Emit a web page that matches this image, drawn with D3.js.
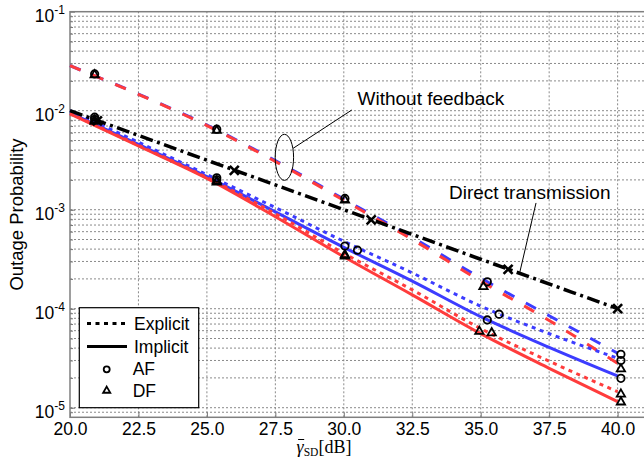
<!DOCTYPE html>
<html>
<head>
<meta charset="utf-8">
<script src="https://cdn.jsdelivr.net/npm/d3@7"></script>
<style>
  body { margin: 0; background: #fff; }
  svg { display: block; font-family: "Liberation Sans", Arial, Helvetica, sans-serif; }
</style>
</head>
<body>
<div id="chart"></div>
<script>
// values
var snr = [20, 22.5, 25, 27.5, 30, 32.5, 35, 37.5, 40];
var noFbAF = [2.85e-2, 1.47e-2, 7.16e-3, 3.13e-3, 1.28e-3, 5.25e-4, 2.04e-4, 8.5e-5, 3.55e-5];
var noFbDF = [2.85e-2, 1.46e-2, 7.08e-3, 3.07e-3, 1.245e-3, 5.0e-4, 1.9e-4, 7.6e-5, 2.8e-5];
var explAF = [1.0e-2, 4.8e-3, 2.26e-3, 1.05e-3, 4.8e-4, 2.3e-4, 1.06e-4, 5.6e-5, 3.16e-5];
var explDF = [9.4e-3, 4.47e-3, 2.11e-3, 9.1e-4, 3.63e-4, 1.55e-4, 6.3e-5, 2.95e-5, 1.45e-5];
var implAF = [9.5e-3, 4.57e-3, 2.16e-3, 9.5e-4, 4.17e-4, 1.9e-4, 8.3e-5, 4.07e-5, 2.09e-5];
var implDF = [9.3e-3, 4.4e-3, 2.07e-3, 8.5e-4, 3.35e-4, 1.38e-4, 5.6e-5, 2.5e-5, 1.15e-5];

var directSnr = [20, 25, 30, 35, 40];
var direct = [1.0e-2, 3.16e-3, 1.0e-3, 3.16e-4, 1.0e-4];
var directMarkSnr = [21, 26, 31, 36, 40];
var directMark = [7.9e-3, 2.5e-3, 7.9e-4, 2.5e-4, 1.0e-4];

// simulation points: circles = AF, triangles = DF
var simAF = [
  { x: [20.9, 25.36, 30.04, 35.24, 40.12], y: [2.35e-2, 6.5e-3, 1.3e-3, 1.87e-4, 3.46e-5] },
  { x: [20.9, 25.36, 30.5, 35.67, 40.12], y: [8.6e-3, 2.1e-3, 3.9e-4, 8.8e-5, 2.99e-5] },
  { x: [20.9, 25.36, 30.04, 35.24, 40.12], y: [8.2e-3, 2.0e-3, 4.3e-4, 7.7e-5, 1.98e-5] }
];
var simDF = [
  { x: [20.9, 25.36, 30.04, 35.1, 40.12], y: [2.3e-2, 6.3e-3, 1.25e-3, 1.67e-4, 2.46e-5] },
  { x: [20.9, 25.36, 30.04, 35.4, 40.12], y: [8.0e-3, 1.95e-3, 3.5e-4, 5.7e-5, 1.37e-5] },
  { x: [20.9, 25.36, 30.04, 34.95, 40.12], y: [7.8e-3, 1.9e-3, 3.4e-4, 5.9e-5, 1.14e-5] }
];

var xTicks = [20, 22.5, 25, 27.5, 30, 32.5, 35, 37.5, 40];
var yMajor = [1e-5, 1e-4, 1e-3, 1e-2, 1e-1];
var legendLabels = ["Explicit", "Implicit", "AF", "DF"];

var w = 644;
var h = 464;
var red = "#ff3c3c";
var blue = "#3c3cff";
var gridColor = "#8a8a8a";

var svg = d3.select("#chart").append("svg").attr("width", w).attr("height", h);

// scales
var xScale = d3.scaleLinear().domain([20, 41]).range([70, 645]);
var yScale = d3.scaleLog().domain([8e-6, 1e-1]).range([417.3, 11.7]);
var x0 = xScale.range()[0], x1 = xScale.range()[1];
var yb = yScale.range()[0], yt = yScale.range()[1];

// grid
var yMinor = yScale.ticks().filter(function (d) { return d > 8.01e-6 && d < 0.0999; });
svg.append("g").selectAll("line")
  .data(yMinor)
  .enter()
  .append("line")
  .attr("x1", x0).attr("x2", x1)
  .attr("y1", function (d) { return yScale(d); })
  .attr("y2", function (d) { return yScale(d); })
  .attr("stroke", gridColor).attr("stroke-width", 1).attr("stroke-dasharray", "2,2");
svg.append("g").selectAll("line")
  .data(xTicks.slice(1))
  .enter()
  .append("line")
  .attr("x1", function (d) { return xScale(d); })
  .attr("x2", function (d) { return xScale(d); })
  .attr("y1", yb).attr("y2", yt)
  .attr("stroke", gridColor).attr("stroke-width", 1).attr("stroke-dasharray", "2,2");

// axes
var xAxis = d3.axisBottom(xScale).tickValues(xTicks).tickFormat(d3.format(".1f"))
  .tickSizeInner(-5).tickSizeOuter(0).tickPadding(5);
var gx = svg.append("g").attr("transform", "translate(0," + yb + ")").call(xAxis);
gx.select(".domain").remove();
gx.selectAll("line").attr("stroke", "#777");
gx.selectAll("text").attr("font-size", "17.5px").attr("fill", "#000")
  .attr("font-family", "Liberation Sans, Arial, sans-serif");

var yAxis = d3.axisLeft(yScale).tickValues(yMajor).tickFormat("").tickSizeInner(-5).tickSizeOuter(0);
var gy = svg.append("g").attr("transform", "translate(" + x0 + ",0)").call(yAxis);
gy.select(".domain").remove();
gy.selectAll("line").attr("stroke", "#777");
var yAxisMinor = d3.axisLeft(yScale).tickValues(yMinor).tickFormat("").tickSizeInner(-3).tickSizeOuter(0);
var gym = svg.append("g").attr("transform", "translate(" + x0 + ",0)").call(yAxisMinor);
gym.select(".domain").remove();
gym.selectAll("line").attr("stroke", "#777");

var yLab = svg.append("g").selectAll("text")
  .data(yMajor)
  .enter()
  .append("text")
  .attr("x", x0 - 5)
  .attr("y", function (d) { return yScale(d) + 10; })
  .attr("text-anchor", "end")
  .attr("font-size", "17.5px");
yLab.append("tspan").text("10");
yLab.append("tspan").attr("dy", -8).attr("font-size", "12px")
  .text(function (d) { return "-" + Math.round(-Math.log10(d)); });

// frame
svg.append("rect")
  .attr("x", x0).attr("y", yt)
  .attr("width", x1 - x0).attr("height", yb - yt)
  .attr("fill", "none").attr("stroke", "#7f7f7f").attr("stroke-width", 1.5);

// axis titles
svg.append("text")
  .attr("transform", "translate(23," + ((yt + yb) / 2) + ") rotate(-90)")
  .attr("text-anchor", "middle")
  .attr("font-size", "18.5px")
  .text("Outage Probability");

var xt = svg.append("text")
  .attr("x", 324).attr("y", 453)
  .attr("text-anchor", "middle")
  .attr("font-family", "Liberation Serif, DejaVu Serif, serif")
  .attr("font-size", "18px");
xt.append("tspan").attr("font-style", "italic").text("\u03b3");
xt.append("tspan").attr("dy", 3).attr("font-size", "11.5px").text("SD");
xt.append("tspan").attr("dy", -3).text("[dB]");
// bar over gamma
var gbox = xt.node().getExtentOfChar(0);
svg.append("line")
  .attr("x1", gbox.x + 1.5).attr("x2", gbox.x + gbox.width + 0.5)
  .attr("y1", gbox.y + 2.5).attr("y2", gbox.y + 2.5)
  .attr("stroke", "#000").attr("stroke-width", 1);

// curves
var line = d3.line()
  .x(function (d) { return xScale(d[0]); })
  .y(function (d) { return yScale(d[1]); })
  .curve(d3.curveMonotoneX);

function drawCurve(xs, ys, color, width, dash) {
  svg.append("path")
    .datum(xs.map(function (d, i) { return [d, ys[i]]; }))
    .attr("d", line)
    .attr("fill", "none")
    .attr("stroke", color)
    .attr("stroke-width", width)
    .attr("stroke-dasharray", dash);
}

drawCurve(snr, noFbAF, blue, 3, "11.5,13");
drawCurve(snr, noFbDF, red, 3, "11.5,13");
drawCurve(snr, explAF, blue, 3, "4,4.5");
drawCurve(snr, implAF, blue, 3, null);
drawCurve(snr, explDF, red, 3, "4,4.5");
drawCurve(snr, implDF, red, 3, null);
drawCurve(directSnr, direct, "#000", 3.5, "13,4.5,3,4.5");

// direct transmission markers
svg.append("g").selectAll("path")
  .data(directMarkSnr)
  .enter()
  .append("path")
  .attr("transform", function (d, i) { return "translate(" + xScale(d) + "," + yScale(directMark[i]) + ")"; })
  .attr("d", "M-4.5,-4.5L4.5,4.5M-4.5,4.5L4.5,-4.5")
  .attr("stroke", "#000").attr("stroke-width", 2.6).attr("fill", "none");

// simulation markers
var tri = d3.symbol().type(d3.symbolTriangle).size(30);
simAF.forEach(function (s) {
  svg.append("g").selectAll("circle")
    .data(s.x)
    .enter()
    .append("circle")
    .attr("cx", function (d) { return xScale(d); })
    .attr("cy", function (d, i) { return yScale(s.y[i]); })
    .attr("r", 3.7)
    .attr("fill", "none").attr("stroke", "#000").attr("stroke-width", 1.8);
});
simDF.forEach(function (s) {
  svg.append("g").selectAll("path")
    .data(s.x)
    .enter()
    .append("path")
    .attr("transform", function (d, i) { return "translate(" + xScale(d) + "," + yScale(s.y[i]) + ")"; })
    .attr("d", tri)
    .attr("fill", "none").attr("stroke", "#000").attr("stroke-width", 1.8);
});

// annotations
svg.append("ellipse")
  .attr("cx", xScale(27.83)).attr("cy", yScale(3.38e-3))
  .attr("rx", 9.2).attr("ry", 23)
  .attr("fill", "none").attr("stroke", "#000").attr("stroke-width", 1);
svg.append("line")
  .attr("x1", xScale(28.15)).attr("y1", yScale(4.17e-3))
  .attr("x2", xScale(30.29)).attr("y2", yScale(1.016e-2))
  .attr("stroke", "#000").attr("stroke-width", 1);
svg.append("text")
  .attr("x", xScale(30.5)).attr("y", yScale(1.14e-2))
  .attr("font-size", "19px")
  .text("Without feedback");

svg.append("line")
  .attr("x1", xScale(37.02)).attr("y1", yScale(1.17e-3))
  .attr("x2", xScale(36.43)).attr("y2", yScale(2.35e-4))
  .attr("stroke", "#000").attr("stroke-width", 1);
svg.append("text")
  .attr("x", xScale(33.84)).attr("y", yScale(1.28e-3))
  .attr("font-size", "19px")
  .text("Direct transmission");

// legend
var lg = svg.append("g");
lg.append("rect")
  .attr("x", 79.3).attr("y", 307.7).attr("width", 119.4).attr("height", 100)
  .attr("fill", "#fff").attr("stroke", "#000").attr("stroke-width", 1.2);
var rows = [323.5, 346.5, 369.3, 390.7];
lg.selectAll("text")
  .data(legendLabels)
  .enter()
  .append("text")
  .attr("x", function (d, i) { return i < 2 ? 134 : 132.7; })
  .attr("y", function (d, i) { return rows[i] + 6; })
  .attr("font-size", "17.5px")
  .text(function (d) { return d; });
lg.append("line").attr("x1", 87).attr("x2", 127).attr("y1", rows[0]).attr("y2", rows[0])
  .attr("stroke", "#000").attr("stroke-width", 3).attr("stroke-dasharray", "4,4.5");
lg.append("line").attr("x1", 87).attr("x2", 127).attr("y1", rows[1]).attr("y2", rows[1])
  .attr("stroke", "#000").attr("stroke-width", 3);
lg.append("circle").attr("cx", 106.7).attr("cy", rows[2]).attr("r", 3)
  .attr("fill", "none").attr("stroke", "#000").attr("stroke-width", 1.8);
lg.append("path").attr("transform", "translate(106.7," + rows[3] + ")")
  .attr("d", d3.symbol().type(d3.symbolTriangle).size(22))
  .attr("fill", "none").attr("stroke", "#000").attr("stroke-width", 1.8);
</script>
</body>
</html>
